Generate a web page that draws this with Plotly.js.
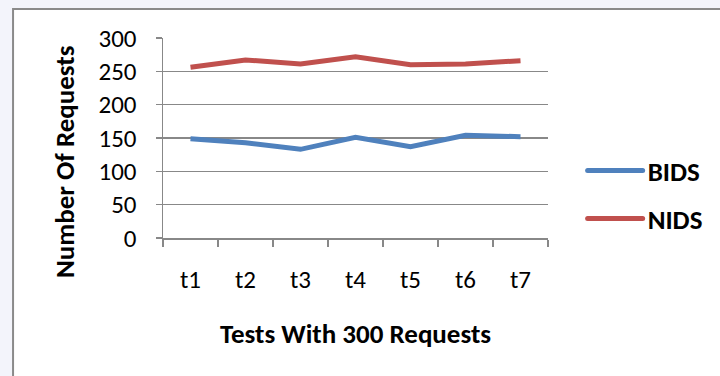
<!DOCTYPE html>
<html>
<head>
<meta charset="utf-8">
<script src="https://cdn.plot.ly/plotly-3.0.1.min.js"></script>
<style>html,body{margin:0;padding:0;background:#fff;}#chart{width:720px;height:376px;}</style>
</head>
<body>
<div id="chart"></div>
<script>
const categories = ["t1", "t2", "t3", "t4", "t5", "t6", "t7"];
const bidsValues = [149, 143, 133, 151, 137, 154, 152];
const nidsValues = [256, 267, 261, 272, 260, 261, 266];
const seriesNames = ["BIDS", "NIDS"];
const yTickValues = [0, 50, 100, 150, 200, 250, 300];
const xTitle = 'Tests With 300 Requests';
const yTitle = 'Number Of Requests';

const FONT = "Carlito, 'Liberation Sans Narrow', 'Liberation Sans', Arial, sans-serif";
const L = 163, R = 552, T = 38, B = 238, W = 720, H = 376;
const px = x => (x - L) / (R - L);
const py = y => (B - y) / (B - T);

const traces = [
  {x: categories, y: bidsValues, name: seriesNames[0], type: 'scatter', mode: 'lines',
   line: {color: '#4F81BD', width: 5}, legend: 'legend'},
  {x: categories, y: nidsValues, name: seriesNames[1], type: 'scatter', mode: 'lines',
   line: {color: '#C0504D', width: 5}, legend: 'legend2'}
];

const legendCommon = {
  font: {family: FONT, size: 27, color: '#000', weight: 'bold'},
  bgcolor: 'rgba(0,0,0,0)', borderwidth: 0,
  xanchor: 'left', yanchor: 'middle', itemwidth: 55
};

const layout = {
  width: W, height: H,
  margin: {l: L, r: W - R, t: T, b: H - B, pad: 0},
  paper_bgcolor: '#f3f4fb', plot_bgcolor: '#fff',
  showlegend: true,
  legend: Object.assign({}, legendCommon, {x: px(587), y: py(171)}),
  legend2: Object.assign({}, legendCommon, {x: px(587), y: py(219)}),
  xaxis: {
    type: 'category', range: [-0.5, 6.5],
    showgrid: false, showline: true, linecolor: '#888', linewidth: 1.5,
    ticks: 'outside', tickson: 'boundaries', ticklen: 7, tickwidth: 1.5, tickcolor: '#888',
    tickfont: {family: FONT, size: 25, color: '#000'},
    ticklabelstandoff: 18,
    title: {text: xTitle, font: {family: FONT, size: 27, color: '#000', weight: 'bold'}, standoff: 30}
  },
  yaxis: {
    range: [0, 300], tickvals: yTickValues, ticktext: yTickValues.map(String),
    showgrid: true, gridcolor: '#888', gridwidth: 1.5,
    showline: true, linecolor: '#888', linewidth: 1.5,
    ticks: 'outside', ticklen: 6, tickwidth: 1.5, tickcolor: '#888',
    tickfont: {family: FONT, size: 25, color: '#000'},
    ticklabelstandoff: 14,
    zeroline: false
  },
  annotations: [
    {text: yTitle, xref: 'paper', yref: 'paper', x: px(63), y: py(162),
     xanchor: 'center', yanchor: 'middle', textangle: -90, showarrow: false,
     font: {family: FONT, size: 27, color: '#000', weight: 'bold'}}
  ],
  shapes: [
    {type: 'rect', xref: 'paper', yref: 'paper',
     x0: px(11.5), x1: px(760), y0: py(420), y1: py(9),
     line: {color: '#8a8a8a', width: 2}, fillcolor: '#ffffff', layer: 'below'}
  ]
};

Plotly.newPlot('chart', traces, layout, {staticPlot: true, displayModeBar: false}).then(gd => {
  // lengthen the legend line samples to match the reference's longer keys
  gd.querySelectorAll('.legendlines path').forEach(p => {
    p.setAttribute('d', 'M5,0h55');
    p.style.strokeLinecap = 'round';
  });
});
</script>
</body>
</html>
